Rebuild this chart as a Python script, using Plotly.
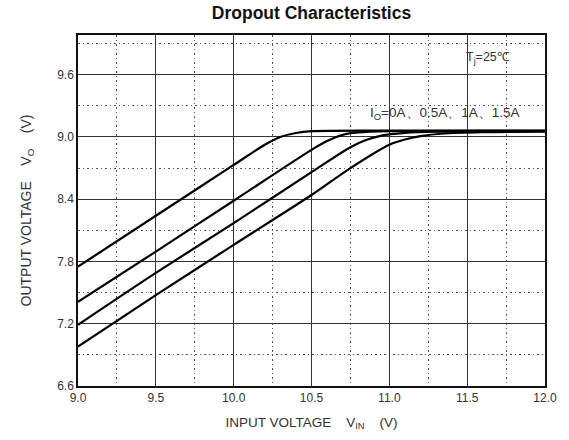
import plotly.graph_objects as go

# Data
vin_0a = [9.0, 9.5, 10.0, 10.2, 10.3, 10.4, 10.5, 11.0, 12.0]
vo_0a = [7.75, 8.24, 8.73, 8.925, 9.0, 9.038, 9.055, 9.06, 9.06]

vin_05a = [9.0, 9.5, 10.0, 10.5, 10.6, 10.7, 10.8, 11.0, 12.0]
vo_05a = [7.41, 7.895, 8.385, 8.875, 8.96, 9.02, 9.043, 9.055, 9.058]

vin_1a = [9.0, 9.5, 10.0, 10.5, 10.75, 10.85, 10.95, 11.1, 11.3, 12.0]
vo_1a = [7.19, 7.69, 8.17, 8.66, 8.9, 8.97, 9.012, 9.038, 9.05, 9.055]

vin_15a = [9.0, 9.5, 10.0, 10.5, 10.75, 11.0, 11.1, 11.2, 11.35, 11.6, 12.0]
vo_15a = [6.98, 7.475, 7.96, 8.44, 8.7, 8.925, 8.975, 9.008, 9.033, 9.045, 9.05]

series = [
    ("0A", vin_0a, vo_0a),
    ("0.5A", vin_05a, vo_05a),
    ("1A", vin_1a, vo_1a),
    ("1.5A", vin_15a, vo_15a),
]

x_ticks = [9.0, 9.5, 10.0, 10.5, 11.0, 11.5, 12.0]
y_ticks = [6.6, 7.2, 7.8, 8.4, 9.0, 9.6]

FONT = "Arial, Liberation Sans, sans-serif"
NB = "\u00a0"

fig = go.Figure()
for name, xs, ys in series:
    fig.add_trace(go.Scatter(
        x=xs, y=ys, mode="lines", name=name,
        line=dict(color="black", width=2.2, shape="spline", smoothing=0.8),
        showlegend=False,
    ))

fig.update_layout(
    width=569, height=440,
    margin=dict(l=78, r=21, t=35, b=51),
    paper_bgcolor="white", plot_bgcolor="white",
    font=dict(family=FONT, color="#222"),
    title=dict(
        text="<b>Dropout Characteristics</b>",
        x=0.5, xref="paper", xanchor="center",
        y=0.97, yref="container", yanchor="middle",
        font=dict(size=17.5, color="#111", family=FONT),
    ),
)

common_axis = dict(
    showline=True, linecolor="#111", linewidth=1.5, mirror=True,
    showgrid=True, gridcolor="#333", gridwidth=1.3,
    ticks="", zeroline=False,
    tickfont=dict(size=12, color="#333", family=FONT),
)

fig.update_xaxes(
    range=[9.0, 12.0],
    tickvals=x_ticks, ticktext=[f"{v:.1f}" for v in x_ticks],
    minor=dict(dtick=0.25, tick0=9.0, showgrid=True, gridcolor="#555",
               gridwidth=1.2, griddash="1.5px,3px"),
    title=dict(text=f"INPUT VOLTAGE{NB*4}V<sub>IN</sub>{NB*4}(V)",
               font=dict(size=13.5, color="#333", family=FONT), standoff=13),
    **common_axis,
)
fig.update_yaxes(
    range=[6.6, 9.982],
    tickvals=y_ticks, ticktext=[f"{v:.1f}" for v in y_ticks],
    minor=dict(dtick=0.3, tick0=6.6, showgrid=True, gridcolor="#555",
               gridwidth=1.2, griddash="1.5px,3px"),
    title=dict(text=f"OUTPUT VOLTAGE{NB*4}V<sub>O</sub>{NB*4}(V)",
               font=dict(size=14, color="#333", family=FONT), standoff=22),
    **common_axis,
)

fig.add_annotation(
    text="T<sub>j</sub>=25\u2103", x=11.48, y=9.765, xref="x", yref="y",
    showarrow=False, xanchor="left", yanchor="middle",
    font=dict(size=12.5, color="#333", family=FONT),
)
fig.add_annotation(
    text="I<sub>O</sub>=0A\u30010.5A\u30011A\u30011.5A", x=11.36, y=9.23, xref="x", yref="y",
    showarrow=False, xanchor="center", yanchor="middle",
    font=dict(size=13.5, color="#333", family=FONT),
)

fig.write_html("out.html")
